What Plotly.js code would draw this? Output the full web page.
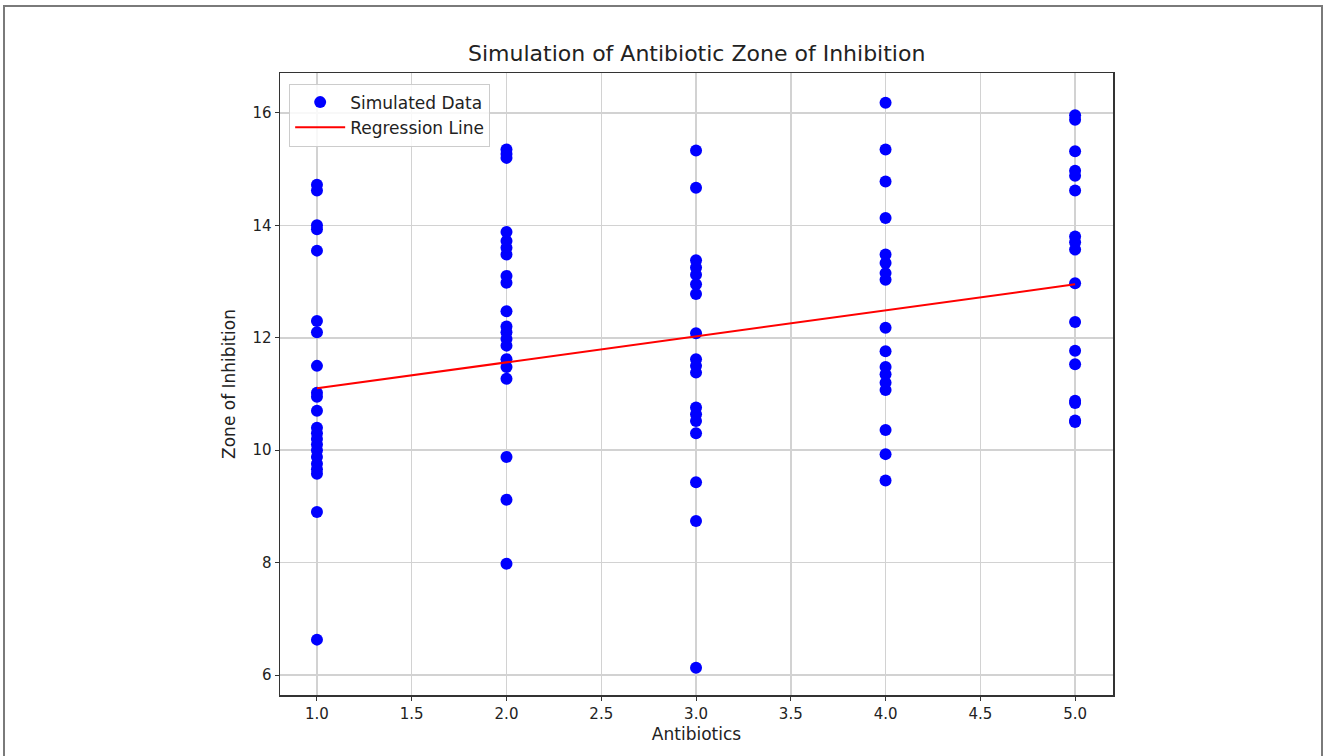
<!DOCTYPE html>
<html>
<head>
<meta charset="utf-8">
<script src="https://cdn.plot.ly/plotly-3.0.1.min.js"></script>
<style>
  html, body { margin: 0; padding: 0; background: #fff; width: 1327px; height: 756px; overflow: hidden; }
  #frame { position: absolute; left: 3px; top: 5px; width: 1320px; height: 800px; border: 2px solid #7a7a7a; border-bottom: none; box-sizing: border-box; }
  #chart { position: absolute; left: 0; top: 0; width: 1327px; height: 756px; }
</style>
</head>
<body>
<div id="frame"></div>
<div id="chart"></div>
<script>
// Data
const antibioticLevels = [1, 2, 3, 4, 5];
const zone1 = [14.72, 14.62, 14.0, 13.93, 13.55, 12.3, 12.1, 11.5, 11.02, 10.95, 10.7, 10.4, 10.3, 10.2, 10.1, 10.0, 9.88, 9.76, 9.66, 9.58, 8.9, 6.63];
const zone2 = [15.35, 15.27, 15.2, 13.88, 13.72, 13.6, 13.48, 13.1, 12.98, 12.47, 12.2, 12.1, 11.98, 11.86, 11.62, 11.48, 11.27, 9.88, 9.12, 7.98];
const zone3 = [15.33, 14.67, 13.38, 13.25, 13.12, 12.95, 12.78, 12.08, 11.62, 11.5, 11.38, 10.76, 10.64, 10.52, 10.3, 9.43, 8.74, 6.13];
const zone4 = [16.18, 15.35, 14.78, 14.13, 13.48, 13.33, 13.15, 13.03, 12.18, 11.76, 11.48, 11.35, 11.2, 11.07, 10.36, 9.93, 9.46];
const zone5 = [15.96, 15.88, 15.32, 14.97, 14.88, 14.62, 13.8, 13.7, 13.57, 12.97, 12.28, 11.77, 11.53, 10.88, 10.84, 10.53, 10.5];
const regressionX = [1, 5];
const regressionY = [11.1, 12.95];
const xTickVals = [1.0, 1.5, 2.0, 2.5, 3.0, 3.5, 4.0, 4.5, 5.0];
const yTickVals = [6, 8, 10, 12, 14, 16];

const groups = [zone1, zone2, zone3, zone4, zone5];
const xs = [], ys = [];
groups.forEach((g, i) => g.forEach(v => { xs.push(antibioticLevels[i]); ys.push(v); }));

const font = 'DejaVu Sans, sans-serif';
const traces = [
  { type: 'scatter', mode: 'markers', name: 'Simulated Data', x: xs, y: ys,
    marker: { color: '#0000ff', size: 12 } },
  { type: 'scatter', mode: 'lines', name: 'Regression Line', x: regressionX, y: regressionY,
    line: { color: '#ff0000', width: 2 } }
];

const axisCommon = {
  showline: true, mirror: true, linecolor: '#333', linewidth: 1.5,
  showgrid: true, gridcolor: '#d2d2d2', gridwidth: 1.5,
  ticks: 'outside', ticklen: 4, tickwidth: 1, tickcolor: '#333',
  zeroline: false,
  tickfont: { family: font, size: 15, color: '#222' }
};

const layout = {
  width: 1327, height: 756,
  margin: { l: 280, r: 214, t: 73, b: 61 },
  paper_bgcolor: 'rgba(0,0,0,0)',
  plot_bgcolor: '#ffffff',
  font: { family: font, color: '#222' },
  title: { text: 'Simulation of Antibiotic Zone of Inhibition', font: { family: font, size: 22, color: '#222' },
           x: 0.525, xanchor: 'center', y: 0.93, yanchor: 'middle' },
  xaxis: Object.assign({}, axisCommon, {
    range: [0.805, 5.2], tickvals: xTickVals, ticktext: xTickVals.map(v => v.toFixed(1)),
    title: { text: 'Antibiotics', font: { family: font, size: 17, color: '#222' }, standoff: 6 }
  }),
  yaxis: Object.assign({}, axisCommon, {
    range: [5.645, 16.71], tickvals: yTickVals,
    title: { text: 'Zone of Inhibition', font: { family: font, size: 17, color: '#222' }, standoff: 12 }
  }),
  legend: {
    x: 0.011, y: 0.983, xanchor: 'left', yanchor: 'top',
    bgcolor: 'rgba(255,255,255,0.85)', bordercolor: '#cccccc', borderwidth: 1,
    font: { family: font, size: 17, color: '#222' },
    itemwidth: 50
  },
  showlegend: true
};

Plotly.newPlot('chart', traces, layout, { displayModeBar: false, staticPlot: true });
</script>
</body>
</html>
